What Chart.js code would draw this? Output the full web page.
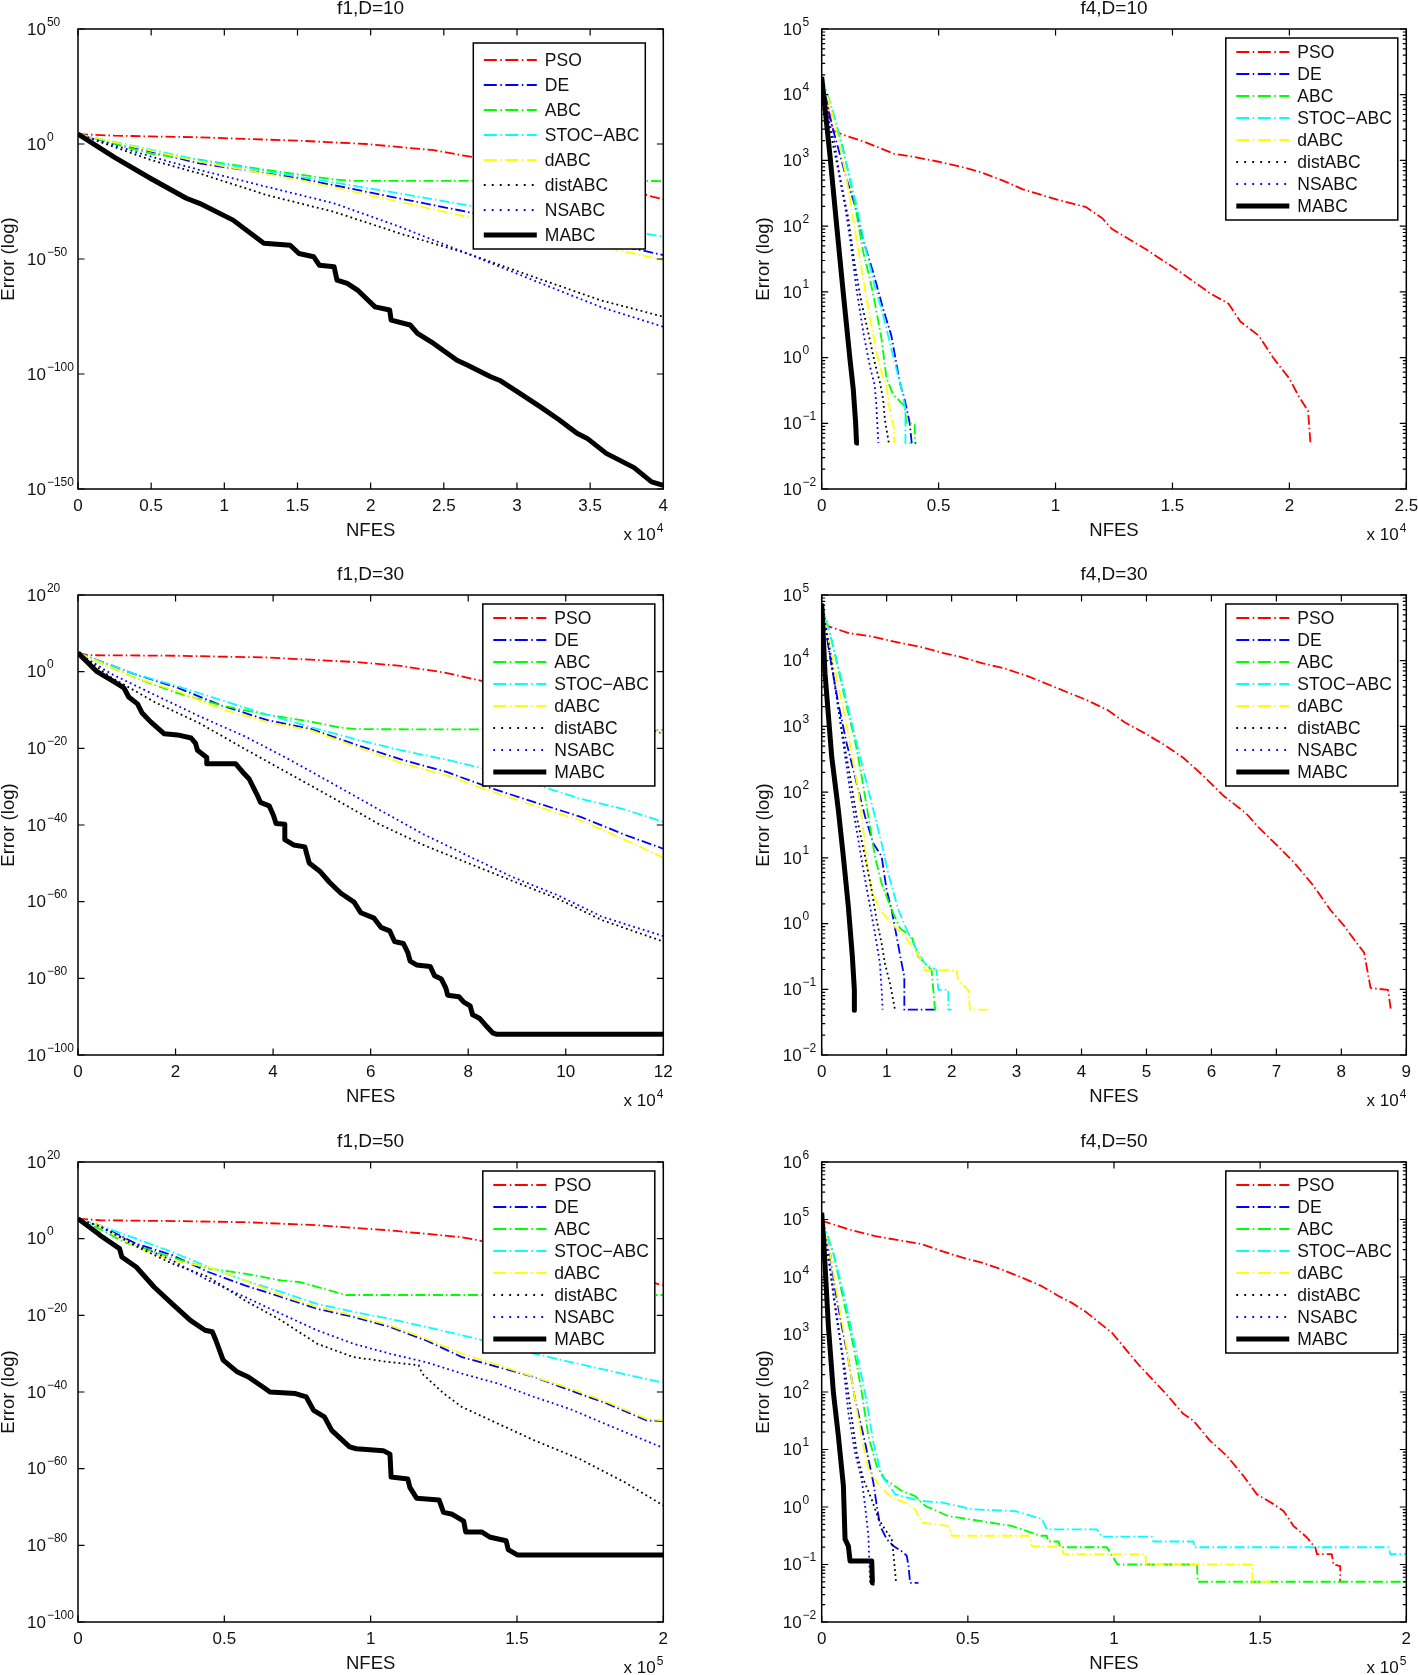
<!DOCTYPE html>
<html>
<head>
<meta charset="utf-8">
<script src="https://cdn.jsdelivr.net/npm/chart.js@4.4.1/dist/chart.umd.min.js"></script>
<style>
  body { margin: 0; background: #fff; width: 1418px; height: 1675px; position: relative; overflow: hidden; }
  .panel { position: absolute; width: 709px; height: 566px; }
</style>
</head>
<body>
<div class="panel" style="left:0;top:0"><canvas id="c1" width="709" height="566"></canvas></div>
<div class="panel" style="left:709px;top:0"><canvas id="c2" width="709" height="566"></canvas></div>
<div class="panel" style="left:0;top:566px"><canvas id="c3" width="709" height="566"></canvas></div>
<div class="panel" style="left:709px;top:566px"><canvas id="c4" width="709" height="566"></canvas></div>
<div class="panel" style="left:0;top:1133px"><canvas id="c5" width="709" height="566"></canvas></div>
<div class="panel" style="left:709px;top:1133px"><canvas id="c6" width="709" height="566"></canvas></div>
<script>
// ---- data: [NFES, log10(error)] ----
const methods = ['PSO', 'DE', 'ABC', 'STOC\u2212ABC', 'dABC', 'distABC', 'NSABC', 'MABC'];

// f1, D=10
const f1d10PSO = [[0,4.3],[2500,3.6],[5000,3.3],[8300,2.9],[15200,1.4],[19700,0],[24300,-2.7],[26600,-5.3],[30000,-8.8],[33000,-12.5],[36000,-16.8],[39300,-23],[40000,-24]];
const f1d10DE = [[0,4.3],[8300,-8.4],[15200,-15],[22000,-23.7],[26600,-29.5],[33000,-38.5],[40000,-48.3]];
const f1d10ABC = [[0,4.3],[5000,-4.3],[8300,-6.8],[12900,-11.3],[17500,-15.4],[18800,-16],[40000,-16.1]];
const f1d10STOC = [[0,4.3],[8300,-7],[15200,-14.3],[22000,-21.5],[26600,-26.6],[33000,-33],[40000,-40.3]];
const f1d10dABC = [[0,4.3],[8300,-7.7],[15200,-15.7],[22000,-25.1],[26600,-31.7],[33000,-40.5],[40000,-50.5]];
const f1d10distABC = [[0,4.3],[5000,-7],[8300,-12.8],[12900,-22.2],[17500,-29.5],[22000,-38.9],[26600,-47.6],[31100,-57.7],[35700,-67.9],[40000,-75.1]];
const f1d10NSABC = [[0,4.3],[5000,-5.5],[8300,-11.3],[12900,-18.6],[17500,-25.8],[22000,-36],[26600,-47.6],[31100,-59.2],[35700,-70.8],[40000,-79.5]];
const f1d10MABC = [[0,4.3],[2500,-5.8],[5000,-15.1],[7400,-23.6],[8300,-25.8],[10600,-33.1],[12700,-43.2],[14500,-44],[15100,-47.6],[16100,-49],[16500,-52.7],[17500,-53.4],[17700,-59.2],[18400,-60.6],[19100,-63.5],[20300,-70.8],[21300,-72.2],[21400,-76.6],[22700,-78.7],[23200,-82.3],[24300,-86.7],[25900,-94],[26600,-96.1],[28200,-101.2],[28800,-102.7],[30200,-108.4],[31600,-114.3],[32900,-120],[34100,-125.8],[34800,-128],[36100,-134.5],[38000,-140.7],[39200,-146.9],[40000,-148.4]];

// f4, D=10
const f4d10PSO = [[0,4.25],[500,3.45],[1000,3.38],[1850,3.28],[2550,3.18],[3100,3.1],[4000,3.05],[5000,2.98],[6000,2.9],[6800,2.82],[7700,2.7],[8600,2.56],[10100,2.4],[11300,2.29],[12000,2.12],[12400,1.96],[13900,1.64],[15300,1.31],[16600,0.98],[17400,0.82],[17900,0.55],[18700,0.33],[19300,0],[20000,-0.32],[20400,-0.59],[20800,-0.81],[20900,-1.3]];
const f4d10DE = [[0,4.27],[355,3.64],[710,3.18],[1065,2.72],[1420,2.32],[1850,1.7],[2200,1.3],[2630,0.74],[2980,0.33],[3340,-0.38],[3550,-0.64],[3760,-0.99],[3850,-1.3],[4050,-1.3]];
const f4d10ABC = [[0,4.27],[430,3.79],[920,3.18],[1350,2.47],[1780,1.6],[2060,1.2],[2270,0.84],[2560,0.28],[2770,-0.31],[3050,-0.56],[3550,-0.74],[3620,-0.99],[3980,-1.02],[3980,-1.3]];
const f4d10STOC = [[0,4.27],[570,3.64],[1065,2.93],[1490,2.32],[1850,1.7],[2270,1.09],[2630,0.64],[2980,0.13],[3270,-0.28],[3440,-0.51],[3580,-0.79],[3580,-1.3],[3900,-1.3]];
const f4d10dABC = [[0,4.27],[355,3.84],[710,3.33],[1065,2.72],[1350,2.11],[1560,1.65],[1850,1.04],[2130,0.48],[2340,0.08],[2560,-0.23],[2770,-0.43],[2910,-0.79],[3100,-1.09],[3100,-1.3]];
const f4d10distABC = [[0,4.27],[430,3.33],[850,2.62],[1140,2.11],[1420,1.4],[1700,0.84],[1990,0.38],[2270,-0.08],[2490,-0.38],[2630,-0.64],[2700,-0.94],[2870,-1.3]];
const f4d10NSABC = [[0,4.27],[280,3.64],[570,3.23],[780,2.72],[990,2.32],[1210,1.81],[1490,1.04],[1780,0.38],[2060,-0.13],[2270,-0.43],[2340,-0.74],[2420,-1.3]];
const f4d10MABC = [[0,4.27],[355,3.07],[640,2.01],[920,0.99],[1210,-0.03],[1350,-0.48],[1450,-0.99],[1490,-1.3],[1590,-1.3]];

// f1, D=30
const f1d30PSO = [[0,4.9],[2100,4.3],[20400,4.15],[38700,3.7],[57100,2.5],[66200,1.5],[75400,-0.3],[82700,-2.4],[90000,-4.6],[100000,-8],[110000,-11.8],[120000,-16.2]];
const f1d30DE = [[0,4.9],[11300,-0.5],[20400,-4.2],[29600,-8.9],[38700,-12.6],[47900,-15],[57100,-19.1],[66200,-22.9],[75400,-26.1],[84500,-30.3],[93700,-34.1],[102900,-37.8],[112000,-42.5],[120000,-46.2]];
const f1d30ABC = [[0,4.9],[11300,-1.4],[20400,-5.6],[29600,-8.9],[38700,-11.2],[47900,-13.1],[53400,-14.5],[57000,-15],[120000,-15.2]];
const f1d30STOC = [[0,4.9],[11300,-0.5],[20400,-3.8],[29600,-7.5],[38700,-11.2],[47900,-14.5],[57100,-17.7],[66200,-20.5],[75400,-22.9],[84500,-25.7],[93700,-29.4],[102900,-33.1],[112000,-35.9],[120000,-39.2]];
const f1d30dABC = [[0,4.9],[11300,-1.4],[20400,-5.1],[29600,-9.8],[38700,-13.1],[47900,-15.4],[57100,-19.6],[66200,-23.8],[75400,-27],[84500,-31.1],[93700,-35],[102900,-38.7],[112000,-43.8],[120000,-48.5]];
const f1d30distABC = [[0,4.9],[6700,-1.4],[15800,-8],[25000,-13.5],[34100,-20.1],[43300,-26.6],[52500,-33.1],[61600,-39.7],[70800,-45.2],[79900,-49.9],[89100,-54.6],[98300,-59.2],[107400,-64.8],[120000,-70.4]];
const f1d30NSABC = [[0,4.9],[6700,-0.5],[15800,-6.1],[25000,-11.7],[34100,-16.8],[43300,-22.9],[52500,-29.4],[61600,-35.9],[70800,-42.4],[79900,-48],[89100,-53.6],[98300,-58.3],[107400,-63.9],[120000,-69]];
const f1d30MABC = [[0,4.9],[3900,0],[7600,-2.8],[9400,-4.2],[10400,-6.6],[12200,-8.4],[13100,-10.7],[14900,-13.1],[17700,-16.2],[20400,-16.5],[23200,-17.3],[24100,-18.7],[24500,-20.5],[26400,-22.4],[26400,-24],[32300,-24],[33700,-26.1],[35100,-28],[36000,-30.3],[36900,-32.6],[37400,-34.1],[39200,-35],[40100,-37.6],[40600,-39.6],[42400,-39.8],[42400,-43.8],[44200,-45.2],[46500,-45.7],[47400,-49.9],[49700,-52.2],[51600,-55],[53900,-57.8],[56600,-60.1],[58000,-62.9],[60700,-64.3],[62100,-66.7],[63900,-67.6],[64900,-70.4],[66700,-70.9],[67600,-73.2],[68100,-75.5],[69400,-76.5],[72200,-76.9],[73100,-79.3],[74500,-80.2],[75400,-82.5],[75800,-84.4],[78100,-84.8],[79100,-86.2],[80400,-87.2],[80900,-89.5],[82300,-90.4],[83600,-92.3],[85000,-94.2],[85900,-94.6],[120000,-94.6]];

// f4, D=30
const f4d30PSO = [[0,4.85],[760,4.53],[4200,4.42],[7600,4.37],[11700,4.28],[15200,4.21],[18600,4.12],[21300,4.06],[24800,3.96],[28200,3.88],[31600,3.77],[35100,3.63],[37800,3.52],[40600,3.41],[44000,3.25],[46700,3.06],[50200,2.87],[52900,2.71],[55700,2.52],[58400,2.28],[61800,1.95],[65300,1.68],[67300,1.46],[70100,1.19],[72800,0.92],[75600,0.59],[78300,0.21],[80400,-0.03],[82400,-0.3],[83500,-0.44],[84500,-0.98],[87200,-1.01],[87600,-1.3]];
const f4d30DE = [[0,4.87],[1280,4.06],[2560,3.35],[3850,2.74],[5130,2.24],[6670,1.63],[7950,1.22],[9230,1.02],[10000,0.51],[10770,0.21],[11540,-0.2],[12200,-0.55],[12720,-0.81],[12720,-1.31],[17440,-1.31]];
const f4d30ABC = [[0,4.87],[1540,4.31],[2820,3.76],[4100,3.2],[5130,2.79],[6150,2.24],[7180,1.63],[8200,1.02],[9230,0.61],[10770,0.21],[12050,-0.07],[13850,-0.2],[14870,-0.5],[16410,-0.66],[16920,-0.71],[17180,-1.01],[17440,-1.31],[17700,-1.31]];
const f4d30STOC = [[0,4.87],[1800,4.21],[3330,3.6],[4870,2.95],[6410,2.34],[7690,1.83],[9230,1.22],[10260,0.76],[11800,0.21],[13330,-0.15],[14360,-0.35],[15900,-0.61],[17690,-0.71],[17950,-1.01],[19490,-1.01],[19490,-1.31],[20000,-1.31]];
const f4d30dABC = [[0,4.87],[1280,4.21],[2560,3.6],[3590,3.15],[4870,2.44],[5640,2.03],[6410,1.42],[6920,0.92],[7690,0.51],[8970,0.21],[10770,0],[12820,-0.2],[14360,-0.4],[15380,-0.56],[15900,-0.71],[20770,-0.71],[21000,-0.86],[22560,-1.01],[22820,-1.31],[25900,-1.31]];
const f4d30distABC = [[0,4.87],[1800,3.76],[3080,2.95],[4360,2.24],[5380,1.63],[6670,1.02],[7690,0.51],[8460,0.05],[9230,-0.3],[9740,-0.61],[10510,-0.91],[11280,-1.31]];
const f4d30NSABC = [[0,4.87],[1280,4.16],[2310,3.45],[3330,2.74],[4360,2.03],[5380,1.42],[6410,0.82],[7440,0.26],[8200,-0.15],[8970,-0.61],[9230,-1.01],[9380,-1.31]];
const f4d30MABC = [[0,4.87],[510,3.81],[1540,2.54],[2560,1.73],[3330,1.02],[4100,0.26],[4720,-0.5],[5030,-1.01],[5030,-1.32],[5130,-1.32]];

// f1, D=50
const f1d50PSO = [[0,5.2],[7500,4.8],[32000,4.6],[57000,4.3],[82000,3.5],[106000,2.2],[131000,0.4],[136000,-0.3],[160000,-4.3],[180000,-8],[200000,-12.2]];
const f1d50DE = [[0,5.2],[7500,3.4],[19900,-1.3],[32200,-4.3],[44600,-8.7],[57000,-12.2],[69400,-15.2],[81700,-18.3],[94100,-20.4],[106500,-23],[118800,-26.5],[131200,-30.9],[143600,-33.5],[155900,-36.1],[168300,-39.6],[180700,-43],[194300,-47.4],[200000,-47.6]];
const f1d50ABC = [[0,5.2],[7500,2.5],[16000,-1],[32000,-4.8],[44600,-7.8],[57000,-9.1],[69400,-10.9],[75600,-11.3],[81700,-12.6],[91600,-14.7],[200000,-14.7]];
const f1d50STOC = [[0,5.2],[7500,3.4],[19900,0],[32200,-3.5],[44600,-7.4],[57000,-10.9],[69400,-13.9],[81700,-17],[94100,-19.1],[106500,-20.9],[118800,-23],[131200,-25.2],[143600,-27.5],[155900,-30],[168300,-32.2],[180700,-34.3],[200000,-37.6]];
const f1d50dABC = [[0,5.2],[7500,3.4],[19900,-2.2],[32200,-5.7],[44600,-7.4],[57000,-10.9],[69400,-14.8],[81700,-17.8],[94100,-20],[106500,-22.6],[118800,-26.1],[131200,-30],[143600,-33],[155900,-36.1],[168300,-39.1],[180700,-42.6],[194300,-47],[200000,-47.4]];
const f1d50distABC = [[0,5.2],[7500,3.2],[19900,-2],[32200,-6.5],[44600,-10],[57000,-16.1],[69400,-21.3],[81700,-27.4],[94100,-30.9],[106500,-32.2],[116400,-33],[117600,-35.2],[125000,-40.4],[131200,-43.9],[143600,-48.3],[155900,-52.6],[171500,-57.5],[186700,-63.5],[200000,-69.6]];
const f1d50NSABC = [[0,5.2],[7500,3.2],[19900,-1.5],[32200,-5.7],[44600,-10.9],[57000,-15.2],[69400,-19.6],[81700,-23.9],[94100,-27.4],[106500,-30],[118800,-32.2],[131200,-35.2],[143600,-37.8],[155900,-41.3],[168300,-44.5],[180700,-48.5],[200000,-54.6]];
const f1d50MABC = [[0,5.2],[6600,1.5],[7500,0.9],[14200,-2.6],[15000,-4.8],[19900,-7.4],[26000,-12.6],[32200,-17],[38400,-21.3],[43400,-23.9],[45900,-24.3],[47100,-26.5],[49600,-31.7],[54500,-34.8],[58200,-36.1],[63200,-38.7],[65600,-40],[74300,-40.4],[78000,-41.3],[80500,-44.8],[84200,-46.5],[86700,-50],[89100,-51.7],[92800,-54.3],[95100,-54.8],[104300,-55.3],[106600,-56.2],[107000,-62.2],[112700,-62.7],[113400,-64.9],[115700,-67.7],[123400,-68.2],[124900,-71.4],[127900,-71.9],[131800,-73.7],[132500,-76.5],[137900,-76.5],[140900,-77.9],[146300,-78.8],[147000,-81.1],[150100,-82.5],[200000,-82.5]];

// f4, D=50
const f4d50PSO = [[0,5],[570,4.97],[9100,4.83],[18300,4.71],[27400,4.63],[34200,4.57],[41100,4.45],[47900,4.34],[54800,4.25],[61600,4.13],[68500,3.99],[75300,3.84],[81000,3.67],[85600,3.55],[90200,3.4],[99300,3.03],[108500,2.47],[117600,1.98],[123700,1.62],[127200,1.5],[132900,1.15],[138600,0.89],[144300,0.54],[148900,0.22],[154600,0.05],[158000,-0.07],[161400,-0.33],[166000,-0.53],[168900,-0.71],[169400,-0.82],[174500,-0.82],[175100,-1],[177400,-1.03],[177400,-1.31]];
const f4d50DE = [[0,5],[2850,4.42],[4570,3.79],[6850,3.15],[9130,2.57],[11420,1.87],[14840,1.12],[17690,0.42],[18840,0.02],[19980,-0.33],[22260,-0.56],[24550,-0.68],[27970,-0.79],[29110,-0.85],[29700,-1.03],[30250,-1.32],[33100,-1.32]];
const f4d50ABC = [[0,5],[4000,4.42],[7420,3.61],[10850,2.8],[13700,1.99],[15980,1.23],[18840,0.71],[21690,0.48],[27400,0.28],[31960,0.19],[35390,0.02],[43380,-0.16],[50230,-0.21],[65070,-0.33],[71920,-0.45],[74700,-0.5],[77000,-0.5],[77500,-0.6],[81000,-0.6],[81600,-0.7],[97550,-0.7],[101200,-1],[128400,-1],[128600,-1.3],[200000,-1.3]];
const f4d50STOC = [[0,5],[4570,4.31],[7990,3.61],[11420,2.8],[14840,1.99],[17690,1.12],[20550,0.54],[22830,0.39],[25110,0.22],[31960,0.13],[35390,0.1],[41100,0.08],[51370,-0.04],[66210,-0.07],[75340,-0.21],[77000,-0.39],[94130,-0.39],[95800,-0.515],[112900,-0.515],[113500,-0.6],[127200,-0.6],[127500,-0.7],[194000,-0.7],[194500,-0.82],[200000,-0.82]];
const f4d50dABC = [[0,5],[2850,4.42],[5140,3.73],[7990,2.92],[10270,2.22],[12560,1.52],[14270,1.06],[15980,0.66],[19410,0.39],[23970,0.16],[28540,0.08],[31960,-0.04],[34250,-0.27],[43380,-0.33],[44520,-0.5],[70780,-0.5],[71920,-0.68],[82150,-0.7],[82700,-0.82],[110700,-0.82],[111000,-1],[147200,-1],[147500,-1.3],[155000,-1.3]];
const f4d50distABC = [[0,5],[2850,4.13],[5140,3.26],[7420,2.57],[9700,1.76],[11990,0.94],[14270,0.48],[17120,0.13],[19410,-0.21],[21690,-0.39],[23970,-0.56],[24500,-0.79],[25460,-1.32]];
const f4d50NSABC = [[0,5],[2280,4.42],[4000,3.73],[5710,3.15],[7420,2.45],[9130,1.64],[11420,0.94],[13700,0.48],[14840,0.02],[15980,-0.5],[16550,-1.32]];
const f4d50MABC = [[0,5.12],[910,4.42],[2280,3.15],[4000,1.99],[5710,1.23],[7420,0.37],[7990,-0.56],[9130,-0.68],[9700,-0.94],[17120,-0.94],[17350,-1.32],[18040,-1.32]];

// axis ticks (y as powers of ten)
const f1d10YTicks = [50, 0, -50, -100, -150];
const f1YTicks = [20, 0, -20, -40, -60, -80, -100];
const f4YTicks = [5, 4, 3, 2, 1, 0, -1, -2];
const f4d50YTicks = [6, 5, 4, 3, 2, 1, 0, -1, -2];

// ---- styles ----
const FONT = '"Liberation Sans", Arial, Helvetica, sans-serif';
const dashDot = [10, 3, 1.5, 3];
const dotted = [1.8, 3.2];
const lineColors = ['#ff0000', '#0000ff', '#00ff00', '#00ffff', '#ffff00', '#000000', '#0000ff', '#000000'];
const lineDashes = [dashDot, dashDot, dashDot, dashDot, dashDot, dotted, dotted, []];
const legendDashes = [[13, 3.5, 1.5, 3.5], [13, 3.5, 1.5, 3.5], [13, 3.5, 1.5, 3.5], [13, 3.5, 1.5, 3.5], [13, 3.5, 1.5, 3.5], [1.8, 6.2], [1.8, 6.2], []];
const lineWidths = [1.8, 1.8, 1.8, 1.8, 1.8, 1.8, 1.8, 5];

const bigLegend = { rightGap: 18, topGap: 14, padTop: 17, pitch: 25, height: 206 };
const smallLegend = { rightGap: 8.5, topGap: 9, padTop: 14, pitch: 22, height: 182 };

const panels = [
  { id: 'c1', col: 0, title: 'f1,D=10', series: [f1d10PSO, f1d10DE, f1d10ABC, f1d10STOC, f1d10dABC, f1d10distABC, f1d10NSABC, f1d10MABC],
    xMax: 40000, xStep: 5000, xPow: 4, yTicks: f1d10YTicks, minor: false, legend: bigLegend },
  { id: 'c2', col: 1, title: 'f4,D=10', series: [f4d10PSO, f4d10DE, f4d10ABC, f4d10STOC, f4d10dABC, f4d10distABC, f4d10NSABC, f4d10MABC],
    xMax: 25000, xStep: 5000, xPow: 4, yTicks: f4YTicks, minor: true, legend: smallLegend },
  { id: 'c3', col: 0, title: 'f1,D=30', series: [f1d30PSO, f1d30DE, f1d30ABC, f1d30STOC, f1d30dABC, f1d30distABC, f1d30NSABC, f1d30MABC],
    xMax: 120000, xStep: 20000, xPow: 4, yTicks: f1YTicks, minor: false, legend: smallLegend },
  { id: 'c4', col: 1, title: 'f4,D=30', series: [f4d30PSO, f4d30DE, f4d30ABC, f4d30STOC, f4d30dABC, f4d30distABC, f4d30NSABC, f4d30MABC],
    xMax: 90000, xStep: 10000, xPow: 4, yTicks: f4YTicks, minor: true, legend: smallLegend },
  { id: 'c5', col: 0, title: 'f1,D=50', series: [f1d50PSO, f1d50DE, f1d50ABC, f1d50STOC, f1d50dABC, f1d50distABC, f1d50NSABC, f1d50MABC],
    xMax: 200000, xStep: 50000, xPow: 5, yTicks: f1YTicks, minor: false, legend: smallLegend },
  { id: 'c6', col: 1, title: 'f4,D=50', series: [f4d50PSO, f4d50DE, f4d50ABC, f4d50STOC, f4d50dABC, f4d50distABC, f4d50NSABC, f4d50MABC],
    xMax: 200000, xStep: 50000, xPow: 5, yTicks: f4d50YTicks, minor: true, legend: smallLegend }
];

// per-column geometry (canvas-local)
const colGeom = [
  { plotLeft: 78, padRight: 45.7, labelOff: 51, yTitleX: 9 },
  { plotLeft: 112.7, padRight: 11.7, labelOff: 39, yTitleX: 55 }
];

function expText(e) {
  return e < 0 ? '\u2212' + Math.abs(e) : String(e);
}

function drawPow(ctx, x, y, exp) {
  // "10" with a raised exponent, left aligned at x, centred on y
  ctx.font = '17px ' + FONT;
  ctx.textAlign = 'left';
  ctx.textBaseline = 'middle';
  ctx.fillText('10', x, y + 1);
  const w = ctx.measureText('10').width;
  ctx.font = '12px ' + FONT;
  ctx.textBaseline = 'alphabetic';
  ctx.fillText(expText(exp), x + w + 1, y - 3.5);
}

// MATLAB-like box, inward ticks, labels and boxed legend
const matlabFrame = {
  id: 'matlabFrame',
  afterDatasetsDraw(chart, args, opts) {
    const p = opts.panel;
    const g = colGeom[p.col];
    const { ctx, chartArea: a, scales } = chart;
    const xs = scales.x, ys = scales.y;
    ctx.save();
    ctx.strokeStyle = '#000';
    ctx.fillStyle = '#111';
    ctx.lineWidth = 1.2;
    ctx.setLineDash([]);

    // x ticks top and bottom
    const major = 6.5, minorLen = 3.5;
    ctx.beginPath();
    xs.ticks.forEach(t => {
      const px = xs.getPixelForValue(t.value);
      ctx.moveTo(px, a.bottom); ctx.lineTo(px, a.bottom - major);
      ctx.moveTo(px, a.top); ctx.lineTo(px, a.top + major);
    });
    // y major ticks left and right
    p.yTicks.forEach(e => {
      const py = ys.getPixelForValue(Math.pow(10, e));
      ctx.moveTo(a.left, py); ctx.lineTo(a.left + major, py);
      ctx.moveTo(a.right, py); ctx.lineTo(a.right - major, py);
    });
    if (p.minor) {
      const lo = Math.min(...p.yTicks), hi = Math.max(...p.yTicks);
      for (let e = lo; e < hi; e++) {
        for (let k = 2; k <= 9; k++) {
          const py = ys.getPixelForValue(k * Math.pow(10, e));
          ctx.moveTo(a.left, py); ctx.lineTo(a.left + minorLen, py);
          ctx.moveTo(a.right, py); ctx.lineTo(a.right - minorLen, py);
        }
      }
    }
    ctx.stroke();

    ctx.lineWidth = 1.5;
    ctx.strokeRect(a.left, a.top, a.right - a.left, a.bottom - a.top);

    // x tick labels
    ctx.font = '17px ' + FONT;
    ctx.textAlign = 'center';
    ctx.textBaseline = 'middle';
    xs.ticks.forEach(t => {
      const v = t.value / Math.pow(10, p.xPow);
      ctx.fillText(String(+v.toFixed(2)), xs.getPixelForValue(t.value), a.bottom + 17);
    });

    // y tick labels
    p.yTicks.forEach(e => {
      drawPow(ctx, a.left - g.labelOff, ys.getPixelForValue(Math.pow(10, e)), e);
    });

    // multiplier "x 10^n"
    ctx.font = '17px ' + FONT;
    const w1 = ctx.measureText('x 10').width;
    ctx.font = '12px ' + FONT;
    const w2 = ctx.measureText(String(p.xPow)).width;
    const mx = a.right - w1 - w2 - 1;
    ctx.font = '17px ' + FONT;
    ctx.textAlign = 'left';
    ctx.textBaseline = 'middle';
    ctx.fillText('x 10', mx, a.bottom + 46);
    ctx.font = '12px ' + FONT;
    ctx.textBaseline = 'alphabetic';
    ctx.fillText(String(p.xPow), mx + w1 + 1, a.bottom + 42.5);

    // titles
    const cx = (a.left + a.right) / 2;
    ctx.textAlign = 'center';
    ctx.textBaseline = 'middle';
    ctx.font = '19px ' + FONT;
    ctx.fillText(p.title, cx, a.top - 20.5);
    ctx.font = '18.5px ' + FONT;
    ctx.fillText('NFES', cx, a.bottom + 42);
    ctx.save();
    ctx.translate(g.yTitleX, (a.top + a.bottom) / 2);
    ctx.rotate(-Math.PI / 2);
    ctx.fillText('Error (log)', 0, 0);
    ctx.restore();

    // legend box
    const L = p.legend;
    const bw = 172;
    const bx = a.right - L.rightGap - bw, by = a.top + L.topGap;
    ctx.fillStyle = '#fff';
    ctx.fillRect(bx, by, bw, L.height);
    ctx.lineWidth = 1.5;
    ctx.strokeStyle = '#000';
    ctx.strokeRect(bx, by, bw, L.height);
    chart.data.datasets.forEach((ds, i) => {
      const ry = by + L.padTop + i * L.pitch;
      ctx.beginPath();
      ctx.strokeStyle = lineColors[i];
      ctx.lineWidth = lineWidths[i];
      ctx.setLineDash(legendDashes[i]);
      ctx.moveTo(bx + 10.5, ry);
      ctx.lineTo(bx + 63.5, ry);
      ctx.stroke();
      ctx.setLineDash([]);
      ctx.fillStyle = '#111';
      ctx.font = '17.5px ' + FONT;
      ctx.textAlign = 'left';
      ctx.textBaseline = 'middle';
      ctx.fillText(ds.label, bx + 71.5, ry + 1);
    });
    ctx.restore();
  }
};

panels.forEach(p => {
  const g = colGeom[p.col];
  const yMin = Math.pow(10, Math.min(...p.yTicks));
  const yMax = Math.pow(10, Math.max(...p.yTicks));
  new Chart(document.getElementById(p.id), {
    type: 'line',
    data: {
      datasets: p.series.map((pts, i) => ({
        label: methods[i],
        data: pts.map(([x, e]) => ({ x: x, y: Math.pow(10, e) })),
        borderColor: lineColors[i],
        borderWidth: lineWidths[i],
        borderDash: lineDashes[i],
        borderJoinStyle: 'round',
        pointRadius: 0,
        tension: 0,
        fill: false,
        order: methods.length - 1 - i
      }))
    },
    options: {
      responsive: false,
      animation: false,
      events: [],
      layout: { padding: { top: 29, right: g.padRight, left: 0, bottom: 0 } },
      scales: {
        x: {
          type: 'linear', min: 0, max: p.xMax,
          ticks: { display: false, stepSize: p.xStep },
          grid: { display: false }, border: { display: false },
          afterFit: s => { s.height = 77; }
        },
        y: {
          type: 'logarithmic', min: yMin, max: yMax,
          ticks: { display: false },
          grid: { display: false }, border: { display: false },
          afterBuildTicks: s => { s.ticks = p.yTicks.map(e => ({ value: Math.pow(10, e) })); },
          afterFit: s => { s.width = g.plotLeft; }
        }
      },
      plugins: {
        legend: { display: false },
        tooltip: { enabled: false },
        matlabFrame: { panel: p }
      }
    },
    plugins: [matlabFrame]
  });
});
</script>
</body>
</html>
